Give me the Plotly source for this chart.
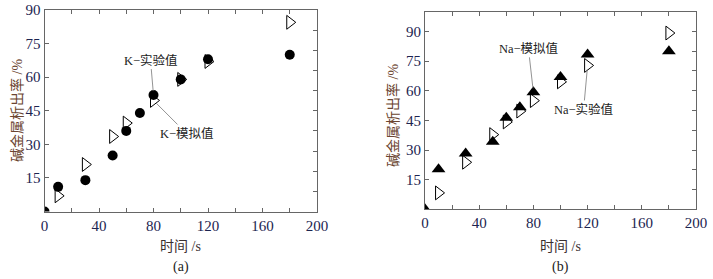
import plotly.graph_objects as go

# ---- data (panel a: K) ----
k_exp_t = [0, 10, 30, 50, 60, 70, 80, 100, 120, 180]
k_exp_v = [0, 11, 14, 25, 36, 44, 52, 59, 68, 70]
k_sim_t = [10, 30, 50, 60, 80, 100, 120, 180]
k_sim_v = [7, 21, 33.5, 39.5, 49.6, 59, 67, 84.5]

# ---- data (panel b: Na) ----
na_sim_t = [0, 10, 30, 50, 60, 70, 80, 100, 120, 180]
na_sim_v = [0, 20.3, 28.3, 34.2, 46.3, 51.7, 59.2, 67, 78.3, 80]
na_exp_t = [10, 30, 50, 60, 70, 80, 100, 120, 180]
na_exp_v = [8.3, 23.8, 37.8, 44.2, 49.7, 55, 64.5, 72.8, 89.2]

x_tickvals = [0, 20, 40, 60, 80, 100, 120, 140, 160, 180, 200]
x_ticktext = ["0", "", "40", "", "80", "", "120", "", "160", "", "200"]
y_tickvals = [15, 30, 45, 60, 75, 90]
y_ticktext = ["15", "30", "45", "60", "75", "90"]

x_title = "时间 /s"
y_title = "碱金属析出率 /%"

FONT_NUM = "Liberation Serif, Noto Sans CJK SC"
TICKCOL = "#1c2450"
LINECOL = "#666666"

fig = go.Figure()

fig.add_trace(go.Scatter(x=k_exp_t, y=k_exp_v, mode="markers", xaxis="x", yaxis="y",
                         marker=dict(symbol="circle", size=10, color="black"), showlegend=False))
fig.add_trace(go.Scatter(x=k_sim_t, y=k_sim_v, mode="markers", xaxis="x", yaxis="y",
                         marker=dict(symbol="triangle-right-open", size=12, color="black",
                                     line=dict(width=1, color="black")), showlegend=False))
fig.add_trace(go.Scatter(x=na_sim_t, y=na_sim_v, mode="markers", xaxis="x2", yaxis="y2",
                         marker=dict(symbol="triangle-up", size=12, color="black"), showlegend=False))
fig.add_trace(go.Scatter(x=na_exp_t, y=na_exp_v, mode="markers", xaxis="x2", yaxis="y2",
                         marker=dict(symbol="triangle-right-open", size=12, color="black",
                                     line=dict(width=1, color="black")), showlegend=False))
# dummy traces for right-side tick axes
fig.add_trace(go.Scatter(x=[None], y=[None], xaxis="x", yaxis="y3", showlegend=False, hoverinfo="skip"))
fig.add_trace(go.Scatter(x=[None], y=[None], xaxis="x2", yaxis="y4", showlegend=False, hoverinfo="skip"))

W, H = 713, 279
L1 = (44.5, 317.0, 10.0, 211.5)
L2 = (425.0, 696.0, 11.7, 209.3)

def xdom(b):
    return [b[0] / W, b[1] / W]

def ydom(b):
    return [1 - b[3] / H, 1 - b[2] / H]

common_x = dict(range=[0, 200], tickvals=x_tickvals, ticktext=x_ticktext, ticks="inside",
                ticklen=4, tickcolor=LINECOL, showline=True, linecolor=LINECOL, linewidth=1,
                mirror="ticks", showgrid=False, zeroline=False, automargin=False,
                tickfont=dict(family=FONT_NUM, size=15, color=TICKCOL))
common_y = dict(tickvals=y_tickvals, ticktext=y_ticktext, ticks="inside",
                ticklen=4, tickcolor=LINECOL, showline=True, linecolor=LINECOL, linewidth=1,
                mirror=True, showgrid=False, zeroline=False, automargin=False,
                tickfont=dict(family=FONT_NUM, size=15, color=TICKCOL))

fig.update_layout(
    template="none",
    width=W, height=H,
    margin=dict(l=0, r=0, t=0, b=0, autoexpand=False),
    paper_bgcolor="white", plot_bgcolor="white",
    xaxis=dict(domain=xdom(L1), anchor="y", **common_x),
    yaxis=dict(domain=ydom(L1), anchor="x", range=[0, 90], **common_y),
    xaxis2=dict(domain=xdom(L2), anchor="y2", **common_x),
    yaxis2=dict(domain=ydom(L2), anchor="x2", range=[0, 100], **common_y),
    yaxis3=dict(overlaying="y", anchor="x", side="right", range=[0, 90], dtick=9, tick0=0,
                ticks="inside", ticklen=4, tickcolor=LINECOL, showticklabels=False, automargin=False,
                showline=False, showgrid=False, zeroline=False),
    yaxis4=dict(overlaying="y2", anchor="x2", side="right", range=[0, 100], dtick=10, tick0=0,
                ticks="inside", ticklen=4, tickcolor=LINECOL, showticklabels=False, automargin=False,
                showline=False, showgrid=False, zeroline=False),
)

ann = []
# axis titles and captions
for b, cap, ycx, dx in [(L1, "(a)", 110.5, 28), (L2, "(b)", 116.0, 32)]:
    cx = (b[0] + b[1]) / 2
    ann.append(dict(x=cx / W, y=1 - 246 / H, xref="paper", yref="paper", text=x_title,
                    showarrow=False, font=dict(family=FONT_NUM, size=14, color="#3a3030"),
                    xanchor="center", yanchor="middle"))
    ann.append(dict(x=cx / W, y=1 - 267 / H, xref="paper", yref="paper", text=cap,
                    showarrow=False, font=dict(family=FONT_NUM, size=14, color="#222222"),
                    xanchor="center", yanchor="middle"))
    ann.append(dict(x=(b[0] - dx) / W, y=1 - ycx / H, xref="paper", yref="paper", text=y_title,
                    showarrow=False, textangle=-90,
                    font=dict(family=FONT_NUM, size=14, color="#6b4530"),
                    xanchor="center", yanchor="middle"))

lab_font = dict(family=FONT_NUM, size=12.5, color="#222222")
arrow = dict(showarrow=True, arrowhead=0, arrowwidth=0.8, arrowcolor="#777777", standoff=4, font=lab_font)
ann.append(dict(x=80, y=52, xref="x", yref="y", text="K−实验值", ax=-3, ay=-35, **arrow))
ann.append(dict(x=80, y=49.6, xref="x", yref="y", text="K−模拟值", ax=33, ay=33, **arrow))
ann.append(dict(x=80, y=59.2, xref="x2", yref="y2", text="Na−模拟值", ax=-5, ay=-44, **arrow))
ann.append(dict(x=120, y=72.8, xref="x2", yref="y2", text="Na−实验值", ax=-4, ay=44, **arrow))

fig.update_layout(annotations=ann)
fig.write_html("out.html", config={"displayModeBar": False},
               post_script="document.body.style.margin='0';document.body.style.overflow='hidden';")
